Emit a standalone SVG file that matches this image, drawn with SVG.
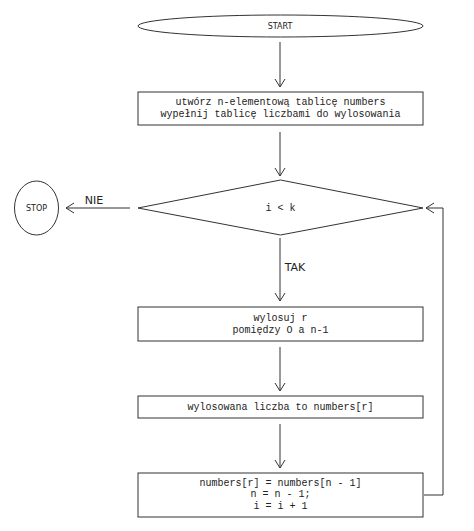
<svg xmlns="http://www.w3.org/2000/svg" width="474" height="531" viewBox="0 0 474 531">
<style>
.s{fill:#fff;stroke:#333;stroke-width:1}
.m{font-family:"Liberation Mono","DejaVu Sans Mono",monospace;font-size:10px;fill:#222;text-anchor:middle}
.t{font-family:"DejaVu Sans","Liberation Sans",sans-serif;fill:#222;text-anchor:middle}
.c{fill:none;stroke:#333;stroke-width:1}
</style>
<defs>
<marker id="a" markerWidth="10" markerHeight="12" refX="9" refY="6" orient="auto" markerUnits="userSpaceOnUse">
<path d="M1,1 L9,6 L1,11" fill="none" stroke="#333" stroke-width="1"/>
</marker>
</defs>
<rect width="474" height="531" fill="#fff"/>
<g id="connectors">
<line class="c" x1="280" y1="42" x2="280" y2="87" marker-end="url(#a)"/>
<line class="c" x1="280" y1="132" x2="280" y2="176" marker-end="url(#a)"/>
<line class="c" x1="130" y1="208" x2="66" y2="208" marker-end="url(#a)"/>
<text class="t" x="94" y="204" font-size="11">NIE</text>
<line class="c" x1="280" y1="238" x2="280" y2="301" marker-end="url(#a)"/>
<text class="t" x="295" y="271" font-size="11">TAK</text>
<line class="c" x1="280" y1="347" x2="280" y2="391" marker-end="url(#a)"/>
<line class="c" x1="280" y1="424" x2="280" y2="468" marker-end="url(#a)"/>
<polyline class="c" points="424,495 443,495 443,208 426,208" marker-end="url(#a)"/>
</g>
<g id="start">
<ellipse class="s" cx="280.5" cy="26" rx="142.5" ry="11"/>
<text class="t" x="280" y="29" font-size="8">START</text>
</g>
<g id="init">
<rect class="s" x="138" y="92" width="285" height="33"/>
<text class="m" x="280.5" y="105">utwórz n-elementową tablicę numbers</text>
<text class="m" x="280.5" y="117">wypełnij tablicę liczbami do wylosowania</text>
</g>
<g id="cond">
<polygon class="s" points="138,208 280.5,180 423,208 280.5,235"/>
<text class="m" x="280.5" y="211">i &lt; k</text>
</g>
<g id="stop">
<ellipse class="s" cx="36.5" cy="208" rx="22" ry="27"/>
<text class="t" x="36.5" y="211" font-size="8">STOP</text>
</g>
<g id="draw">
<rect class="s" x="138" y="307" width="285" height="34"/>
<text class="m" x="280.5" y="321">wylosuj r</text>
<text class="m" x="280.5" y="333">pomiędzy O a n-1</text>
</g>
<g id="result">
<rect class="s" x="138" y="396" width="285" height="22"/>
<text class="m" x="280.5" y="410">wylosowana liczba to numbers[r]</text>
</g>
<g id="update">
<rect class="s" x="138" y="473" width="285" height="44"/>
<text class="m" x="280.5" y="486">numbers[r] = numbers[n - 1]</text>
<text class="m" x="280.5" y="497">n = n - 1;</text>
<text class="m" x="280.5" y="509">i = i + 1</text>
</g>
</svg>
